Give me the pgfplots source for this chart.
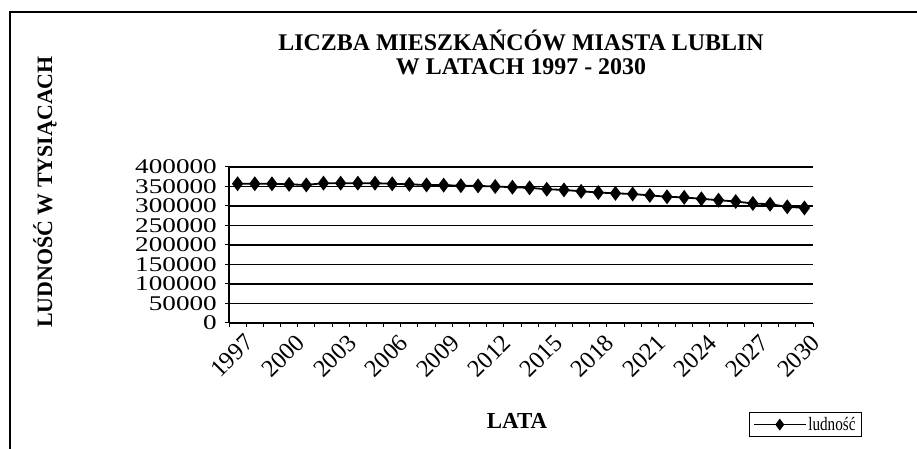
\documentclass[border=0pt]{standalone}
\usepackage{pgfplots}
\pgfplotsset{compat=1.18}
\usepackage{fontspec}
\setmainfont{Liberation Serif}
\usepackage{graphicx}
\newcommand{\yl}[1]{\scalebox{1.3}[1]{#1}}
\begin{document}
\begin{tikzpicture}[x=1bp,y=1bp]
\useasboundingbox (0,0) rectangle (917,449);
\draw[line width=1.2bp] (10,0) -- (10,437) -- (917,437);
\begin{axis}[
  at={(229bp,126bp)}, anchor=south west,
  scale only axis, width=584bp, height=156bp,
  xmin=0, xmax=34, ymin=0, ymax=400000,
  axis line style={line width=1.4bp},
  xtick={0.5,3.5,...,33.5},
  xticklabels={1997,2000,2003,2006,2009,2012,2015,2018,2021,2024,2027,2030},
  minor xtick={0,1,...,34},
  major x tick style={draw=none},
  minor tick length=4bp,
  tick align=outside,
  ytick={0,50000,100000,150000,200000,250000,300000,350000,400000},
  yticklabels={\yl{0},\yl{50000},\yl{100000},\yl{150000},\yl{200000},\yl{250000},\yl{300000},\yl{350000},\yl{400000}},
  major tick length=4bp,
  ymajorgrids, grid style={black, line width=1.3bp},
  tick style={black, line width=1bp},
  scaled y ticks=false,
  yticklabel style={font=\fontsize{21}{21}\selectfont, inner sep=0bp, xshift=-8bp},
  xticklabel style={font=\fontsize{24.5}{24.5}\selectfont, rotate=45, anchor=north east, inner sep=1bp, yshift=-7bp, xshift=1bp},
  axis x line*=bottom, axis y line*=left,
  clip=false,
  legend style={at={(rel axis cs:1.084,-0.731)}, anchor=south east, draw=black, line width=1.2bp, font=\fontsize{19}{19}\selectfont, inner xsep=4bp, inner ysep=2.5bp, legend cell align=left},
  legend image code/.code={
    \draw[#1, line width=1.2bp, mark size=5bp, mark repeat=2, mark phase=2] plot coordinates {(0bp,0bp) (26bp,0bp) (52bp,0bp)};
  },
]
\addplot[black, line width=1.8bp, mark=diamond*, mark size=6bp, mark options={fill=black}] coordinates {
(0.5,357000) (1.5,357000) (2.5,357000) (3.5,355500) (4.5,354000)
(5.5,358500) (6.5,358500) (7.5,358500) (8.5,358500) (9.5,357000)
(10.5,355500) (11.5,354000) (12.5,353500) (13.5,352000) (14.5,351500)
(15.5,350000) (16.5,348200) (17.5,346500) (18.5,343000) (19.5,341200)
(20.5,337700) (21.5,334500) (22.5,332500) (23.5,330700) (24.5,327200)
(25.5,323700) (26.5,322000) (27.5,318400) (28.5,315000) (29.5,311500)
(30.5,306500) (31.5,304500) (32.5,298000) (33.5,295000)
};
\addlegendentry{\scalebox{0.8}[1]{ludność}}
\end{axis}
\node[font=\bfseries\fontsize{24}{24}\selectfont, align=center, inner sep=0] at (521,396.5) {LICZBA MIESZKAŃCÓW MIASTA LUBLIN\\W LATACH 1997 - 2030};
\node[font=\bfseries\fontsize{22}{22}\selectfont, rotate=90, inner sep=0] at (45,257) {LUDNOŚĆ W TYSIĄCACH};
\node[font=\bfseries\fontsize{23}{23}\selectfont, inner sep=0] at (517,28) {LATA};
\end{tikzpicture}
\end{document}
